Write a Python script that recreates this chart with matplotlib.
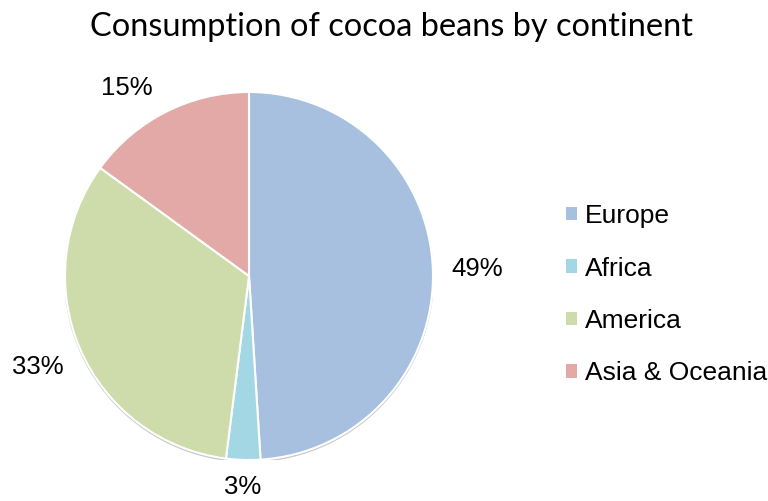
import numpy as np
import matplotlib.pyplot as plt
from matplotlib.patches import Patch, Circle

# data
continents = ["Europe", "Africa", "America", "Asia & Oceania"]
shares = [49, 3, 33, 15]
colors = ["#A7C0DF", "#A3D7E3", "#CEDCAB", "#E3A9A7"]
# where each percentage label sits: distance in pie radii, angle nudge in degrees
label_dist = [1.24, 1.15, 1.25, 1.22]
label_nudge = [0, 0, 0, 6]

fig = plt.figure(figsize=(7.68, 5.01), dpi=100)
W, H = 768, 501
cx, cy, r = 249, 276, 184
ax = fig.add_axes([(cx - r) / W, (H - cy - r) / H, 2 * r / W, 2 * r / H])

# faint outer rim like the original shadow
ax.add_patch(Circle((0, -0.008), 1.0, facecolor="none", edgecolor="#c8c8c8",
                    linewidth=1.2, zorder=0))

wedges, _ = ax.pie(shares, colors=colors, startangle=90, counterclock=False,
                   radius=1.0, wedgeprops=dict(edgecolor="white", linewidth=1.5))

total = float(sum(shares))
start = 90.0
for val, d, nd in zip(shares, label_dist, label_nudge):
    sweep = 360.0 * val / total
    mid = np.deg2rad(start - sweep / 2 + nd)
    ax.text(d * np.cos(mid), d * np.sin(mid), f"{val}%", ha="center", va="center",
            fontsize=18.5, family="Liberation Sans", color="black", clip_on=False)
    start -= sweep

ax.set_xlim(-1, 1)
ax.set_ylim(-1, 1)
ax.set_aspect("equal")
ax.axis("off")

fig.text(391 / W, 1 - 27 / H, "Consumption of cocoa beans by continent",
         ha="center", va="center", fontsize=23.4, family="Lato")

handles = [Patch(facecolor=c, edgecolor="none") for c in colors]
leg = fig.legend(handles, continents, loc="upper left",
                 bbox_to_anchor=(566 / W, 1 - 204 / H), frameon=False,
                 prop=dict(family="Liberation Sans", size=19),
                 handlelength=0.42, handleheight=0.42, handletextpad=0.3,
                 labelspacing=1.08, borderpad=0, borderaxespad=0)

fig.savefig("out.png", dpi=100)
